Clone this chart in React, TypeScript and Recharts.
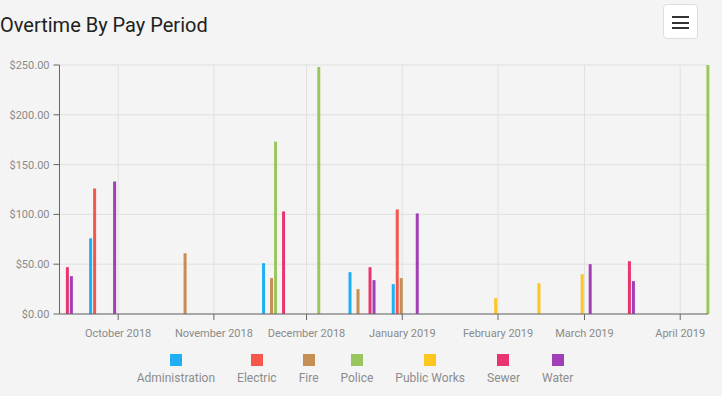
import { BarChart, Bar, XAxis, YAxis, CartesianGrid } from 'recharts';

// pay period end dates (biweekly)
const payPeriods = [
  '2018-09-12', '2018-09-26', '2018-10-10', '2018-10-24', '2018-11-07', '2018-11-21',
  '2018-12-05', '2018-12-19', '2019-01-02', '2019-01-16', '2019-01-30', '2019-02-13',
  '2019-02-27', '2019-03-13', '2019-03-27', '2019-04-10',
];

const administration = [null, 76, null, null, null, 51, null, 42, 30, null, null, null, null, null, null, null];
const electric = [null, 126, null, null, null, null, null, null, 105, null, null, null, null, null, null, null];
const fire = [null, null, null, 61, null, 36, null, 25, 36, null, null, null, null, null, null, null];
const police = [null, null, null, null, null, 173, 248, null, null, null, null, null, null, null, null, 250];
const publicWorks = [null, null, null, null, null, null, null, null, null, null, 16, 31, 40, null, null, null];
const sewer = [47, null, null, null, null, 103, null, 47, null, null, null, null, null, 53, null, null];
const water = [38, 133, null, null, null, null, null, 34, 101, null, null, null, 50, 33, null, null];

const seriesKeys = ['administration', 'electric', 'fire', 'police', 'publicWorks', 'sewer', 'water'];
const seriesNames = ['Administration', 'Electric', 'Fire', 'Police', 'Public Works', 'Sewer', 'Water'];
const seriesColors = ['#1eaff4', '#f5574b', '#c68e52', '#9ac75d', '#fec620', '#ea3470', '#a33eb9'];

const monthTicks = ['2018-10-01', '2018-11-01', '2018-12-01', '2019-01-01', '2019-02-01', '2019-03-01', '2019-04-01'];
const valueTicks = [0, 50, 100, 150, 200, 250];
const monthNames = [
  'January', 'February', 'March', 'April', 'May', 'June',
  'July', 'August', 'September', 'October', 'November', 'December',
];

const toTime = (s: string) => {
  const [y, m, d] = s.split('-').map(Number);
  return Date.UTC(y, m - 1, d);
};

const data = payPeriods.map((p, i) => ({
  date: toTime(p),
  administration: administration[i],
  electric: electric[i],
  fire: fire[i],
  police: police[i],
  publicWorks: publicWorks[i],
  sewer: sewer[i],
  water: water[i],
}));

const formatMonth = (t: number) => {
  const d = new Date(t);
  return `${monthNames[d.getUTCMonth()]} ${d.getUTCFullYear()}`;
};

const axisTick = { fontSize: 11, fill: '#8a8a8a', fontFamily: 'Roboto' };

function ChartLegend() {
  return (
    <div
      style={{
        position: 'absolute',
        top: 354,
        left: -6,
        width: 722,
        display: 'flex',
        justifyContent: 'center',
        gap: 22,
        fontFamily: 'Roboto',
      }}
    >
      {seriesNames.map((name, i) => (
        <div key={name} style={{ display: 'flex', flexDirection: 'column', alignItems: 'center' }}>
          <div style={{ width: 12, height: 12, background: seriesColors[i] }} />
          <span style={{ fontSize: 12, lineHeight: '14px', marginTop: 5, color: '#8c8c8c' }}>{name}</span>
        </div>
      ))}
    </div>
  );
}

export default function App() {
  return (
    <div style={{ position: 'relative', width: 722, height: 396, background: '#f4f4f4', overflow: 'hidden' }}>
      <style>{'body{margin:0;background:#f4f4f4}'}</style>
      <div
        style={{
          position: 'absolute',
          left: 0,
          top: 16,
          fontFamily: 'Roboto',
          fontSize: 20,
          lineHeight: '19px',
          color: '#212121',
        }}
      >
        Overtime By Pay Period
      </div>
      <div
        style={{
          position: 'absolute',
          left: 663,
          top: 4,
          width: 33,
          height: 33,
          background: '#fff',
          border: '1px solid #dedede',
          borderRadius: 4,
        }}
      >
        {[11, 16.5, 22].map((y) => (
          <div key={y} style={{ position: 'absolute', left: 8, top: y, width: 17, height: 2, background: '#333' }} />
        ))}
      </div>
      <div style={{ position: 'absolute', left: 0, top: 0 }}>
        <BarChart
          width={722}
          height={396}
          data={data}
          margin={{ top: 65, right: 14, left: 0, bottom: 46 }}
          barGap={1}
        >
          <CartesianGrid stroke="#e0e0e0" />
          <XAxis
            dataKey="date"
            type="number"
            scale="linear"
            domain={[toTime(payPeriods[0]), toTime(payPeriods[payPeriods.length - 1])]}
            ticks={monthTicks.map(toTime)}
            tickFormatter={formatMonth}
            interval={0}
            height={36}
            stroke="#666"
            tickSize={6}
            tickMargin={9}
            tick={axisTick}
          />
          <YAxis
            domain={[0, 250]}
            ticks={valueTicks}
            tickFormatter={(v: number) => `$${v.toFixed(2)}`}
            width={59.5}
            stroke="#666"
            tickSize={6}
            tickMargin={4}
            tick={axisTick}
          />
          {seriesKeys.map((key, i) => (
            <Bar
              key={key}
              dataKey={key}
              name={seriesNames[i]}
              fill={seriesColors[i]}
              barSize={3}
              isAnimationActive={false}
            />
          ))}
        </BarChart>
      </div>
      <ChartLegend />
    </div>
  );
}
